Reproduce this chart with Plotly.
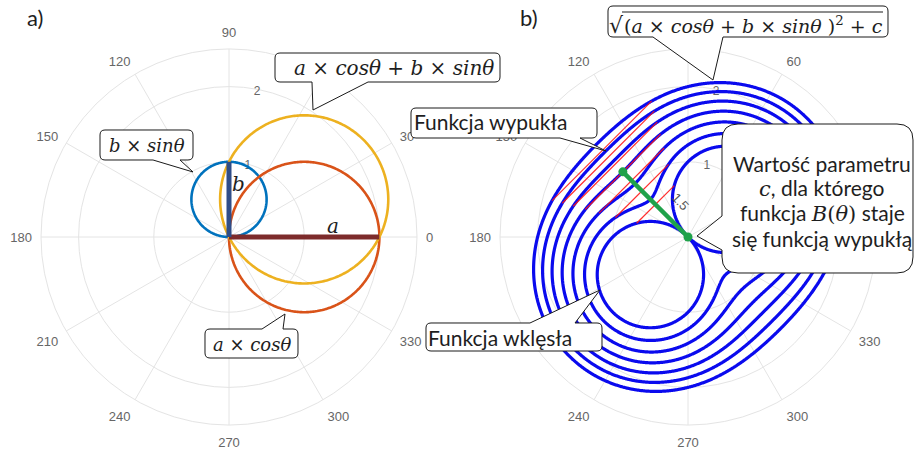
import numpy as np
import plotly.graph_objects as go

W, H = 915, 452

# ---- panel a parameters ----
a_left = 2.0
b_left = 1.0

# ---- panel b parameters ----
a_right = 1.0
b_right = 1.0
c_values = [0.0, 0.5, 1.0, 1.5, 2.0, 2.5, 3.0]
c_convex = 1.5
chord_angles = [105, 165]

# ---- axes ----
angle_ticks = list(range(0, 360, 30))
angle_labels = [str(t) for t in angle_ticks]
r_ticks = [1, 2]
r_max = 2.5
r_label_angle = 83

# ---- layout geometry (pixels) ----
R_PX = 188
CEN_A = (229, 237)
CEN_B = (688, 237)

GRID = "#e4e4e4"
TICK = "#666666"
SANS = "Lato"
SERIF = "DejaVu Serif"


def domain(c):
    return dict(x=[(c[0] - R_PX) / W, (c[0] + R_PX) / W],
                y=[1 - (c[1] + R_PX) / H, 1 - (c[1] - R_PX) / H])


def polar_layout(c):
    return dict(
        domain=domain(c),
        bgcolor="white",
        angularaxis=dict(rotation=0, direction="counterclockwise",
                         tickmode="array", tickvals=angle_ticks, ticktext=angle_labels,
                         showline=True, linecolor=GRID, linewidth=1,
                         gridcolor=GRID, gridwidth=1,
                         ticks="outside", ticklen=6, tickcolor="rgba(0,0,0,0)",
                         tickfont=dict(family="Liberation Sans", size=13, color=TICK)),
        radialaxis=dict(range=[0, r_max], tickmode="array", tickvals=r_ticks,
                        ticktext=[str(t) for t in r_ticks], angle=r_label_angle,
                        tickangle=r_label_angle,
                        showline=False, ticks="", gridcolor=GRID, gridwidth=1,
                        layer="below traces",
                        tickfont=dict(family="Liberation Sans", size=12, color=TICK)),
    )


fig = go.Figure()

# ---- panel a: three circles ----
th = np.linspace(0, 180, 361)
fig.add_trace(go.Scatterpolar(r=b_left * np.sin(np.radians(th)), theta=th, mode="lines",
                              line=dict(color="#0072BD", width=2.6), subplot="polar"))
th = np.linspace(-90, 90, 361)
fig.add_trace(go.Scatterpolar(r=a_left * np.cos(np.radians(th)), theta=th, mode="lines",
                              line=dict(color="#D95319", width=2.6), subplot="polar"))
phi = np.degrees(np.arctan2(b_left, a_left))
th = np.linspace(phi - 90, phi + 90, 361)
rad = np.radians(th)
fig.add_trace(go.Scatterpolar(r=a_left * np.cos(rad) + b_left * np.sin(rad), theta=th,
                              mode="lines", line=dict(color="#EDB120", width=2.6),
                              subplot="polar"))
# segments a and b
fig.add_trace(go.Scatterpolar(r=[0, a_left], theta=[0, 0], mode="lines",
                              line=dict(color="#7d2b2b", width=5), subplot="polar"))
fig.add_trace(go.Scatterpolar(r=[0, b_left], theta=[90, 90], mode="lines",
                              line=dict(color="#2f4d88", width=5), subplot="polar"))

# ---- panel b: family of curves for several c ----
th = np.linspace(0, 360, 1441)
rad = np.radians(th)
u = a_right * np.cos(rad) + b_right * np.sin(rad)
for c in c_values:
    fig.add_trace(go.Scatterpolar(r=np.sqrt(u ** 2 + c), theta=th, mode="lines",
                                  line=dict(color="#0a0aee", width=3.2), subplot="polar2"))

# chords showing convexity
for c in c_values:
    rc = np.radians(chord_angles)
    uc = a_right * np.cos(rc) + b_right * np.sin(rc)
    fig.add_trace(go.Scatterpolar(r=np.sqrt(uc ** 2 + c), theta=chord_angles, mode="lines",
                                  line=dict(color="rgba(255,20,20,0.9)", width=1.2),
                                  subplot="polar2"))

# radius of the convexity threshold curve at its narrowest direction
th_min = np.degrees(np.arctan2(b_right, a_right)) + 90
fig.add_trace(go.Scatterpolar(r=[0, np.sqrt(c_convex)], theta=[th_min, th_min],
                              mode="lines+markers",
                              line=dict(color="#1fa24a", width=4.5),
                              marker=dict(color="#1fa24a", size=9), subplot="polar2"))


# ---- callout bubbles ----
def P(x, y):
    return f"{x / W:.5f},{1 - y / H:.5f}"


def bubble(x0, y0, x1, y1, rr, side, p0, p1, tip):
    s = [f"M{P(x0 + rr, y0)}"]
    if side == "top":
        s += [f"L{P(p0, y0)}", f"L{P(*tip)}", f"L{P(p1, y0)}"]
    s += [f"L{P(x1 - rr, y0)}", f"Q{P(x1, y0)} {P(x1, y0 + rr)}"]
    if side == "right":
        s += [f"L{P(x1, p0)}", f"L{P(*tip)}", f"L{P(x1, p1)}"]
    s += [f"L{P(x1, y1 - rr)}", f"Q{P(x1, y1)} {P(x1 - rr, y1)}"]
    if side == "bottom":
        s += [f"L{P(p1, y1)}", f"L{P(*tip)}", f"L{P(p0, y1)}"]
    s += [f"L{P(x0 + rr, y1)}", f"Q{P(x0, y1)} {P(x0, y1 - rr)}"]
    if side == "left":
        s += [f"L{P(x0, p1)}", f"L{P(*tip)}", f"L{P(x0, p0)}"]
    s += [f"L{P(x0, y0 + rr)}", f"Q{P(x0, y0)} {P(x0 + rr, y0)}", "Z"]
    return " ".join(s)


bubbles = [
    (100, 130, 193, 160, 5, "bottom", 153, 180, (193, 172)),
    (275, 53, 500, 82, 5, "bottom", 312, 368, (313, 110)),
    (205, 329, 298, 358, 5, "top", 262, 283, (285, 314)),
    (608, 6, 888, 37, 5, "bottom", 653, 723, (713, 80)),
    (411, 108, 597, 138, 5, "bottom", 560, 580, (606, 151)),
    (426, 323, 602, 351, 5, "top", 530, 575, (600, 290)),
    (722, 124, 913, 273, 16, "left", 216, 250, (697, 236)),
]
shapes = []
for b in bubbles:
    shapes.append(dict(type="path", xref="paper", yref="paper", layer="above",
                       path=bubble(*b), fillcolor="white",
                       line=dict(color="#1a1a1a", width=1)))
# vinculum of the square root
shapes.append(dict(type="line", xref="paper", yref="paper", layer="above",
                   x0=622 / W, x1=883 / W, y0=1 - 12 / H, y1=1 - 12 / H,
                   line=dict(color="#1a1a1a", width=1)))


def note(x, y, text, size, family=SANS, color="#1e1e1e", angle=0, xanchor="center"):
    return dict(x=x / W, y=1 - y / H, xref="paper", yref="paper", text=text,
                showarrow=False, xanchor=xanchor, yanchor="middle", textangle=angle,
                font=dict(family=family, size=size, color=color))


def it(s):
    return f"<i>{s}</i>"


annotations = [
    note(35, 18, "a)", 22),
    note(529, 18, "b)", 22),
    note(147, 145, f"{it('b')} × {it('sinθ')}", 18, SERIF),
    note(394, 68, f"{it('a')} × {it('cosθ')} + {it('b')} × {it('sinθ')}", 20, SERIF),
    note(252, 344, f"{it('a')} × {it('cosθ')}", 18, SERIF),
    note(616, 25, "√", 22, SERIF),
    note(753, 25, f"({it('a')} × {it('cosθ')} + {it('b')} × {it('sinθ')} )<sup>2</sup> + {it('c')}",
         19, SERIF),
    note(333, 226, it("a"), 20, SERIF),
    note(238, 184, it("b"), 20, SERIF),
    note(491, 122, "Funkcja wypukła", 21),
    note(500, 337, "Funkcja wklęsła", 21),
    note(822, 163, "Wartość parametru", 21),
    note(822, 188, f"<span style='font-family:{SERIF}'>{it('c')}</span>, dla którego", 21),
    note(822, 213, f"funkcja <span style='font-family:{SERIF}'>{it('B')}({it('θ')})</span> staje", 21),
    note(822, 238, "się funkcją wypukłą", 21),
    note(680, 202, f"{c_convex:g}", 13, "Liberation Sans", "#555555", angle=47),
]

fig.update_layout(
    width=W, height=H, margin=dict(l=0, r=0, t=0, b=0),
    paper_bgcolor="white", showlegend=False,
    polar=polar_layout(CEN_A), polar2=polar_layout(CEN_B),
    shapes=shapes, annotations=annotations,
)

fig.write_html("out.html")
